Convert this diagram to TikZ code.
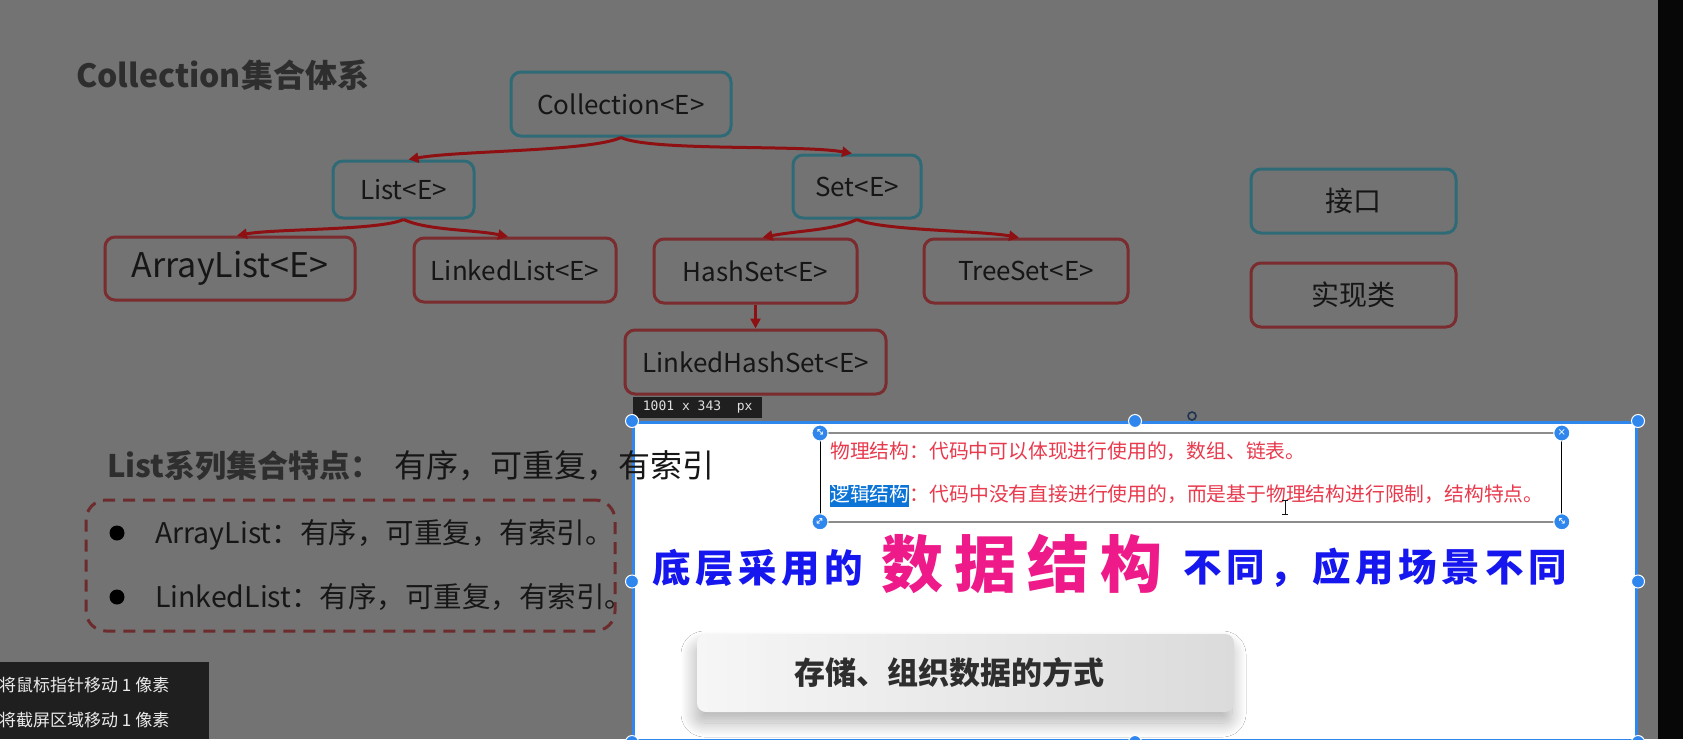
\documentclass[tikz,border=0pt]{standalone}
\usepackage{fontspec}
\setmainfont{Noto Sans CJK SC}
\newfontfamily\monofont{DejaVu Sans Mono}
\newfontfamily\symfont{DejaVu Sans}
\newfontfamily\penfont[LetterSpace=12]{Noto Sans CJK SC}
\newfontfamily\bigpenfont[LetterSpace=18]{Noto Sans CJK SC}
\usetikzlibrary{arrows.meta,positioning,shadows.blur}
\definecolor{Backdrop}{HTML}{737373}
\definecolor{Edge}{HTML}{070707}
\definecolor{Ink}{HTML}{161616}
\definecolor{Heading}{HTML}{2E2E2E}
\definecolor{Teal}{HTML}{2E6B77}
\definecolor{Wine}{HTML}{7A2C2E}
\definecolor{Blood}{HTML}{8E1012}
\definecolor{Dash}{HTML}{6C2B2C}
\definecolor{Snip}{HTML}{2F87EE}
\definecolor{Tip}{HTML}{1F1F1F}
\definecolor{Spin}{HTML}{1F3450}
\definecolor{Rule}{HTML}{8C8C8C}
\definecolor{Memo}{HTML}{E8394D}
\definecolor{Pick}{HTML}{0B74D6}
\definecolor{Pen}{HTML}{1616EE}
\definecolor{Rose}{HTML}{EE1A8A}
\definecolor{Card}{HTML}{F6F6F6}
\definecolor{CardEnd}{HTML}{DBDBDB}
\tikzset{
  every node/.append style={text=Ink, inner sep=0pt},
  iface/.style={draw=Teal, line width=3pt, rounded corners=10pt, align=center,
                minimum height=64pt, font=\fontsize{26}{30}\selectfont},
  impl/.style={iface, draw=Wine},
  legend/.style={minimum width=205pt, font=\fontsize{28}{32}\selectfont},
  arrow/.style={-{Triangle[length=10pt,width=10pt]}, line width=3pt, draw=Blood},
  handle/.style={circle, fill=Snip, draw=white, line width=1pt, minimum size=13pt},
  knob/.style={handle, minimum size=16pt, text=white,
               font=\symfont\fontsize{10}{10}\selectfont},
  memo/.style={text=Memo, font=\fontsize{19.8}{22}\selectfont,
               text height=15pt, text depth=4pt},
  pen/.style={text=Pen, font=\penfont\bfseries\fontsize{38.5}{40}\selectfont},
  bigpen/.style={text=Rose, font=\bigpenfont\bfseries\fontsize{62}{64}\selectfont},
  card/.style={rounded corners=9pt, left color=Card, right color=CardEnd,
               blur shadow={shadow xshift=-2pt, shadow yshift=-11pt,
                            shadow blur radius=14pt, shadow blur steps=24,
                            shadow opacity=30}},
  tag/.style={text=white!92!black, font=\fontsize{17}{20}\selectfont},
}
\begin{document}
\begin{tikzpicture}[x=1pt, y=-1pt]
  \useasboundingbox (0,0) rectangle (1683,739);
  \fill[Backdrop] (0,0) rectangle (1683,739);
  \fill[Edge] (1658,0) rectangle (1683,739);

  % Collection tree
  \node[anchor=west, text=Heading, font=\bfseries\fontsize{32}{36}\selectfont] (title) at (76,75) {Collection集合体系};
  \node[iface, minimum width=220pt] (coll) at (621,104) {Collection<E>};
  \node[iface, minimum width=141pt, minimum height=57pt] (lst) at (403.5,189.5) {List<E>};
  \node[iface, minimum width=128pt, minimum height=63pt] (set) at (857,186.5) {Set<E>};
  \node[impl, minimum width=250pt, minimum height=63pt, font=\fontsize{34}{38}\selectfont] (alist) at (230,268.5) {ArrayList<E>};
  \node[impl, minimum width=202pt] (llist) at (515,270) {LinkedList<E>};
  \node[impl, minimum width=203pt] (hset) at (755.5,271) {HashSet<E>};
  \node[impl, minimum width=204pt] (tset) at (1026,271) {TreeSet<E>};
  \node[impl, minimum width=261pt, below=24pt of hset] (lhset) {LinkedHashSet<E>};

  \draw[arrow] (coll.south) .. controls +(-30,14) and +(50,-9) .. ([xshift=5pt]lst.north);
  \draw[arrow] (coll.south) .. controls +(30,14) and +(-50,-9) .. ([xshift=-5pt]set.north);
  \draw[arrow] (lst.south) .. controls +(-24,11) and +(40,-7) .. ([xshift=7pt]alist.north);
  \draw[arrow] (lst.south) .. controls +(24,11) and +(-35,-7) .. ([xshift=-7pt]llist.north);
  \draw[arrow] (set.south) .. controls +(-24,11) and +(35,-7) .. ([xshift=7pt]hset.north);
  \draw[arrow] (set.south) .. controls +(24,11) and +(-40,-7) .. ([xshift=-7pt]tset.north);
  \draw[arrow] (hset.south) -- (lhset.north);

  % legend
  \node[iface, legend] (legiface) at (1353.5,201) {接口};
  \node[impl, legend, below=27pt of legiface] (legimpl) {实现类};

  % list traits
  \node[draw=Dash, line width=3pt, dash pattern=on 12pt off 8pt, rounded corners=20pt,
        minimum width=529pt, minimum height=131pt] (traits) at (350.5,565.5) {};
  \node[circle, fill=black, minimum size=15pt] (dot1) at (117,533) {};
  \node[circle, fill=black, minimum size=15pt] (dot2) at (117,597) {};
  \node[anchor=west, font=\fontsize{28.5}{33}\selectfont] (trait1) at (155,535) {ArrayList：有序，可重复，有索引。};
  \node[anchor=west, font=\fontsize{28.5}{33}\selectfont] (trait2) at (155,597) {LinkedList：有序，可重复，有索引。};

  % screenshot selection
  \node[draw=Snip, line width=3pt, fill=white, minimum width=1003pt, minimum height=318pt,
        anchor=north west] (snip) at (632,421) {};
  \node[fill=Tip, text=white!88!black, font=\monofont\fontsize{13}{15}\selectfont,
        minimum width=129pt, minimum height=21pt, anchor=south west] (dims) at (633,418) {1001 x 343\ \ px};
  \node[circle, draw=Spin, line width=1.6pt, minimum size=8pt] (spin) at (1192,416) {};

  \node[draw=black, line width=0.8pt, minimum width=741pt, minimum height=88pt,
        anchor=north west] (notes) at (820,433) {};
  \draw[Rule, line width=2pt] (notes.north west) -- (notes.north east);
  \draw[Rule, line width=2pt] (notes.south west) -- (notes.south east);
  \node[memo, anchor=west] (phys) at (830,453) {物理结构：代码中可以体现进行使用的，数组、链表。};
  \node[memo, anchor=west, fill=Pick, text=white, inner ysep=1.5pt] (logic) at (830,496) {逻辑结构};
  \node[memo, right=0pt of logic] (logicrest) {：代码中没有直接进行使用的，而是基于物理结构进行限制，结构特点。};
  \draw[Ink, line width=1pt] (1285,500) -- (1285,514) (1282,500) -- (1288,500) (1282,514) -- (1288,514);
  \node[knob, rotate=-45] (knw) at (notes.north west) {↔};
  \node[knob] (kne) at (notes.north east) {×};
  \node[knob, rotate=45] (ksw) at (notes.south west) {↔};
  \node[knob, rotate=-45] (kse) at (notes.south east) {↔};

  \node[pen, anchor=west] (pen1) at (652,568) {底层采用的};
  \node[bigpen, anchor=west] (pen2) at (881,564) {数据结构};
  \node[pen, anchor=west] (pen3) at (1183,568) {不同，应用场景不同};

  \node[card, minimum width=537pt, minimum height=78pt] (store) at (965.5,673) {};
  \node[text=Heading, font=\bfseries\fontsize{31}{35}\selectfont] (storetext) at (949,673) {存储、组织数据的方式};

  \foreach \a/\n in {north west/hnw, north/hn, north east/hne, west/hw, east/he,
                     south west/hsw, south/hs, south east/hse}
    \node[handle] (\n) at (snip.\a) {};

  % heading over the selection
  \node[anchor=west, text=Heading, font=\bfseries\fontsize{31}{36}\selectfont] (listhead) at (107,466) {List系列集合特点：};
  \node[anchor=west, font=\fontsize{32}{36}\selectfont] (listtraits) at (394,466) {有序，可重复，有索引};

  % key hints
  \node[fill=Tip, minimum width=209pt, minimum height=77pt, anchor=north west] (hint) at (0,662) {};
  \node[tag, anchor=west] (hint1) at (-1,685) {将鼠标指针移动 1 像素};
  \node[tag, anchor=west] (hint2) at (-1,720) {将截屏区域移动 1 像素};
\end{tikzpicture}
\end{document}
